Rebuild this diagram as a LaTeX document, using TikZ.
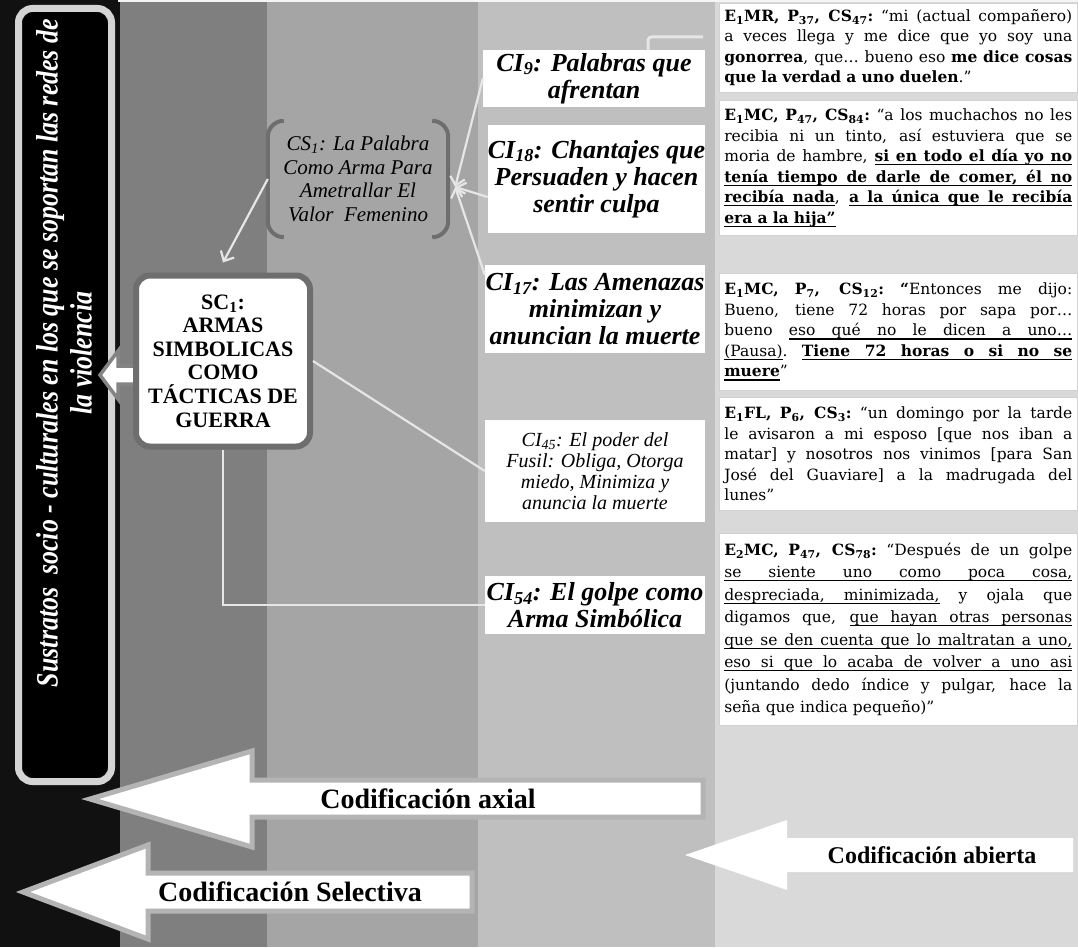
\documentclass[tikz,border=0pt]{standalone}
\usepackage{fontspec}
\setmainfont{Liberation Serif}
\newfontfamily\qfont{DejaVu Serif}
\usepackage{graphicx}
\usetikzlibrary{arrows.meta,calc}
\newcommand{\sbs}[1]{\textsubscript{#1}}
\newcommand{\jl}[1]{\makebox[348pt][s]{\spaceskip=0.3em plus 1fill minus 0.08em\relax\xspaceskip=\spaceskip #1}\\}
% simple stretchable underline
\def\ulw#1{\setbox0\hbox{#1}\rlap{\vrule height -2.6pt depth 3.7pt width \wd0}\box0\relax}
\def\ulsp{\leaders\hrule height -2.6pt depth 3.7pt\hskip\spaceskip}
\def\ulA#1 #2\ulend{\ulw{#1}\ifx\relax#2\relax\else\ulsp\ulA#2\ulend\fi}
\def\ulx#1{\leavevmode\ulA#1 \ulend}
\newcommand{\qsetup}{\qfont\fontsize{15.5}{20.5}\selectfont}
\newsavebox\sustA
\definecolor{bandA}{HTML}{111111}
\definecolor{bandB}{HTML}{7F7F7F}
\definecolor{bandC}{HTML}{A5A5A5}
\definecolor{bandD}{HTML}{BFBFBF}
\definecolor{bandE}{HTML}{D9D9D9}
\definecolor{lineC}{HTML}{E6E6E6}
\definecolor{frameC}{HTML}{6E6E6E}
\definecolor{panelB}{HTML}{D4D4D4}
\definecolor{arrowEdge}{HTML}{B4B4B4}
\begin{document}
\begin{tikzpicture}[x=1pt,y=-1pt,
  conn/.style={draw=lineC, line width=2.2pt},
  tipc/.style={-{Straight Barb[length=8pt,width=15pt,line width=2.2pt]}},
  cibox/.style={fill=white, inner sep=0pt, align=center, text=black,
    font=\bfseries\itshape\fontsize{26}{27}\selectfont},
  qbox/.style={fill=white, draw=black!18, line width=0.6pt, anchor=north west,
    inner xsep=5pt, inner ysep=2pt, text width=348pt, align=left,
    font=\qsetup},
  codelabel/.style={inner sep=0pt, font=\bfseries\fontsize{28}{28}\selectfont},
  brk/.style={draw=frameC, line width=4pt, rounded corners=16pt}
]
\useasboundingbox (0,0) rectangle (1078,947);
% background bands
\fill[bandA] (0,0) rectangle (120,947);
\fill[bandB] (120,0) rectangle (267,947);
\fill[bandC] (267,0) rectangle (478,947);
\fill[bandD] (478,0) rectangle (715,947);
\fill[bandE] (715,0) rectangle (1078,947);
\fill[white!92!gray] (118,0) rectangle (1078,2.5);

% black panel with vertical text
\node[draw=panelB, line width=7pt, fill=black, rounded corners=14pt,
      minimum width=93pt, minimum height=773pt, inner sep=0pt] (panel) at (65,395) {};
\node[rotate=90, text=white, align=center, inner sep=0pt,
      font=\bfseries\itshape\fontsize{31}{34}\selectfont] (sust) at (64,353)
  {\sbox\sustA{Sustratos\ \ socio - culturales en los que se soportan las redes de}%
   \pgfmathparse{668/\the\wd\sustA}\xdef\sustk{\pgfmathresult}%
   \scalebox{\sustk}[1]{\usebox\sustA}\\
   \scalebox{\sustk}[1]{la violencia}};

% bottom block arrows
\filldraw[fill=white, draw=arrowEdge, line width=5pt, line join=miter]
  (90,799) -- (252,751) -- (252,780) -- (703,780) -- (703,817) -- (252,817) -- (252,847) -- cycle;
\node[codelabel] (axial) at (428,799) {Codificación axial};
\filldraw[fill=white, draw=arrowEdge, line width=5pt, line join=miter]
  (23,892) -- (148,845) -- (148,873) -- (472,873) -- (472,911) -- (148,911) -- (148,939) -- cycle;
\node[codelabel] (selectiva) at (290,892) {Codificación Selectiva};
\fill[white] (685,855) -- (787,820) -- (787,838) -- (1073,838) -- (1073,872) -- (787,872) -- (787,890) -- cycle;
\node[codelabel, font=\bfseries\fontsize{24}{24}\selectfont] (abierta) at (932,855) {Codificación abierta};

% small arrow from SC1 to panel
\filldraw[fill=white, draw=frameC!85!white, line width=3.5pt, line join=miter]
  (100,375) -- (118,351) -- (118,366) -- (142,366) -- (142,384) -- (118,384) -- (118,399) -- cycle;

% SC1
\node[draw=frameC, line width=6pt, fill=white, rounded corners=14pt,
      minimum width=174pt, minimum height=171pt, inner sep=0pt, align=center,
      font=\bfseries\fontsize{22}{23.6}\selectfont] (sc1) at (223,361)
  {SC\sbs{1}:\\ARMAS\\SIMBOLICAS\\COMO\\TÁCTICAS DE\\GUERRA};

% CS1 with brackets
\node[minimum width=180pt, minimum height=116pt, inner sep=0pt, align=center,
      text=black, font=\itshape\fontsize{21}{23.5}\selectfont] (cs1) at (358,179)
  {CS\sbs{1}: La Palabra\\Como Arma Para\\Ametrallar El\\Valor\ \ Femenino};
\draw[brk] ([xshift=16pt]cs1.north west) -- (cs1.north west) -- (cs1.south west) -- ([xshift=16pt]cs1.south west);
\draw[brk] ([xshift=-16pt]cs1.north east) -- (cs1.north east) -- (cs1.south east) -- ([xshift=-16pt]cs1.south east);

% CI boxes
\node[cibox, minimum width=222pt, minimum height=57pt] (ci9) at (594,78.5)
  {CI\sbs{9}: Palabras que\\afrentan};
\node[cibox, minimum width=217pt, minimum height=108pt] (ci18) at (596.5,179)
  {CI\sbs{18}: Chantajes que\\Persuaden y hacen\\sentir culpa};
\node[cibox, minimum width=220pt, minimum height=88pt] (ci17) at (595,309)
  {CI\sbs{17}: Las Amenazas\\minimizan y\\anuncian la muerte};
\node[cibox, minimum width=220pt, minimum height=102pt,
      font=\itshape\fontsize{20}{21}\selectfont] (ci45) at (595,471)
  {CI\sbs{45}: El poder del\\Fusil: Obliga, Otorga\\miedo, Minimiza y\\anuncia la muerte};
\node[cibox, minimum width=220pt, minimum height=58pt] (ci54) at (595,605)
  {CI\sbs{54}: El golpe como\\Arma Simbólica};

% connectors
\coordinate (cs1in) at ([xshift=7pt,yshift=-8pt]cs1.east);
\draw[conn,tipc] (ci9.west) -- (cs1in);
\draw[conn,tipc] ([yshift=-18pt]ci18.west) -- (cs1in);
\draw[conn,tipc] ([yshift=-10pt]ci17.north west) -- (cs1in);
\draw[conn,tipc] (cs1.west) -- ([yshift=10pt]sc1.north);
\draw[conn] (sc1.east) -- (ci45.west);
\draw[conn] (sc1.south) |- (ci54.west);
\coordinate (q1in) at (703,37);
\draw[conn, line width=3pt, rounded corners=3pt] ([xshift=-57pt]ci9.north east) |- (q1in);

% quotes
\node[qbox, minimum height=89pt] (q1) at (719,3) {%
\jl{\textbf{E\sbs{1}MR, P\sbs{37}, CS\sbs{47}:} “mi (actual compañero)}
\jl{a veces llega y me dice que yo soy una}
\jl{\textbf{gonorrea}, que… bueno eso \textbf{me dice cosas}}
\textbf{que la verdad a uno duelen}.”};

\node[qbox, minimum height=135pt] (q2) at (719,100) {%
\jl{\textbf{E\sbs{1}MC, P\sbs{47}, CS\sbs{84}:} “a los muchachos no les}
\jl{recibia ni un tinto, así estuviera que se}
\jl{moria de hambre, {\bfseries\ulx{si en todo el día yo no}}}
\jl{{\bfseries\ulx{tenía tiempo de darle de comer, él no}}}
\jl{{\bfseries\ulx{recibía nada}}, {\bfseries\ulx{a la única que le recibía}}}
{\bfseries\ulx{era a la hija”}}};

\node[qbox, minimum height=117pt] (q3) at (719,273) {%
\jl{\textbf{E\sbs{1}MC, P\sbs{7}, CS\sbs{12}: “}Entonces me dijo:}
\jl{Bueno, tiene 72 horas por sapa por…}
\jl{bueno \ulx{eso qué no le dicen a uno…}}
\jl{\ulx{(Pausa)}. {\bfseries\ulx{Tiene 72 horas o si no se}}}
{\bfseries\ulx{muere}}”};

\node[qbox, minimum height=113pt] (q4) at (719,397) {%
\jl{\textbf{E\sbs{1}FL, P\sbs{6}, CS\sbs{3}:} “un domingo por la tarde}
\jl{le avisaron a mi esposo [que nos iban a}
\jl{matar] y nosotros nos vinimos [para San}
\jl{José del Guaviare] a la madrugada del}
lunes”};

\node[qbox, minimum height=192pt, font=\qsetup\fontsize{15.5}{22.5}\selectfont] (q5) at (719,533) {%
\jl{\textbf{E\sbs{2}MC, P\sbs{47}, CS\sbs{78}:} “Después de un golpe}
\jl{\ulx{se siente uno como poca cosa,}}
\jl{\ulx{despreciada, minimizada,} y ojala que}
\jl{digamos que, \ulx{que hayan otras personas}}
\jl{\ulx{que se den cuenta que lo maltratan a uno,}}
\jl{\ulx{eso si que lo acaba de volver a uno asi}}
\jl{(juntando dedo índice y pulgar, hace la}
seña que indica pequeño)”};
\end{tikzpicture}
\end{document}
